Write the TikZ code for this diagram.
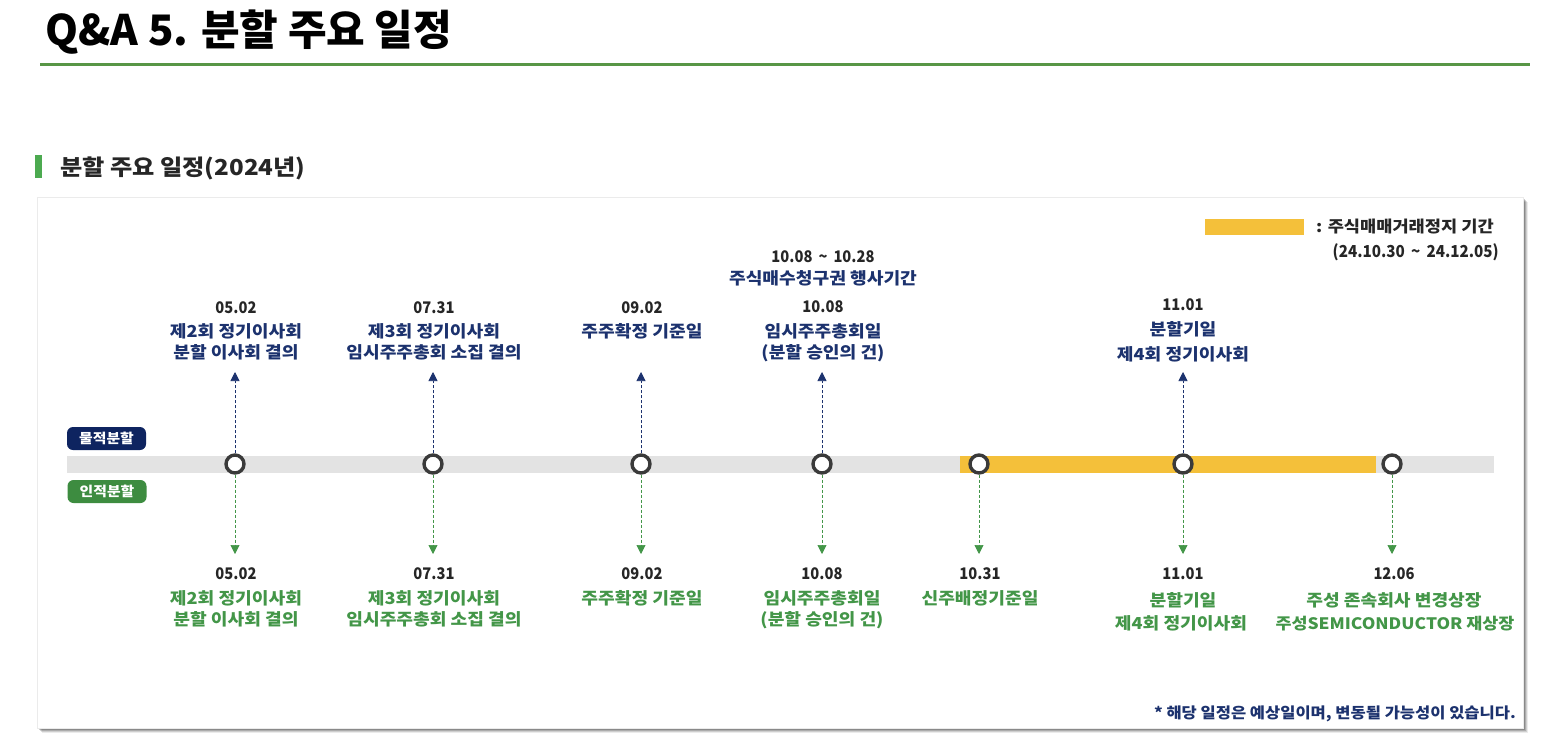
\documentclass[tikz,border=0pt]{standalone}
\usepackage{fontspec}
\setmainfont{Noto Sans CJK KR}
\newfontfamily\krw{Noto Sans CJK KR}[FakeStretch=1.1]
\newfontfamily\krn{Noto Sans CJK KR}[FakeStretch=0.92]
\usetikzlibrary{arrows.meta}
\definecolor{navyT}{RGB}{28,50,110}
\definecolor{navyP}{RGB}{14,36,96}
\definecolor{greenT}{RGB}{67,150,72}
\definecolor{greenP}{RGB}{61,140,64}
\definecolor{dateC}{RGB}{38,38,38}
\definecolor{yel}{RGB}{244,192,58}
\definecolor{barG}{RGB}{227,227,227}
\definecolor{lineG}{RGB}{88,150,70}
\definecolor{markG}{RGB}{76,170,80}
\definecolor{ringC}{RGB}{58,58,58}
\tikzset{
  txt/.style={anchor=base,inner sep=0pt,font=\krw\bfseries\fontsize{16.5}{19}\selectfont},
  dt/.style={anchor=base,inner sep=0pt,text=dateC,font=\krn\bfseries\fontsize{16}{18}\selectfont},
  up/.style={txt,text=navyT},
  dn/.style={txt,text=greenT},
  ring/.style={circle,draw=ringC,fill=white,line width=3.4pt,minimum size=18pt,inner sep=0pt},
  uparrow/.style={draw=navyT,densely dashed,line width=0.7pt,-{Triangle[width=9pt,length=9pt]}},
  dnarrow/.style={draw=greenT,densely dashed,line width=0.7pt,-{Triangle[width=9pt,length=9pt]}},
  pill/.style={rounded corners=6pt,minimum width=79pt,minimum height=23pt,inner sep=0pt,text=white,font=\krw\bfseries\fontsize{13.5}{15}\selectfont}
}
\begin{document}
\begin{tikzpicture}[x=1pt,y=-1pt]
\useasboundingbox (0,0) rectangle (1551,748);
\fill[white] (0,0) rectangle (1551,748);
% title
\node[anchor=base west,inner sep=0pt,font=\bfseries\fontsize{42}{46}\selectfont] (title) at (45,45) {Q\&A 5. 분할 주요 일정};
\draw[lineG,line width=3pt] (40,64) -- (1530,64);
% section
\fill[markG] (35,155) rectangle (42,178);
\node[anchor=base west,inner sep=0pt,text=dateC,font=\krw\bfseries\fontsize{22}{25}\selectfont] (sec) at (60,175) {분할 주요 일정(2024년)};
% panel with shadow
\foreach \o/\op in {5/0.08,4/0.12,3/0.16,2/0.2}{
  \fill[black,opacity=\op] (37+\o,197+\o) rectangle (1523+\o,728+\o);
}
\fill[white] (37,197) rectangle (1523,728);
\draw[black!8,line width=0.6pt] (37,197) rectangle (1523,728);
% legend
\fill[yel] (1205,219) rectangle (1304,235);
\node[anchor=base west,inner sep=0pt,text=dateC,font=\krw\bfseries\fontsize{16}{18}\selectfont] (leg1) at (1316,232.5) {: 주식매매거래정지 기간};
\node[anchor=base east,inner sep=0pt,text=dateC,font=\krn\bfseries\fontsize{16.5}{18}\selectfont] (leg2) at (1499,257) {(24.10.30 \,\textasciitilde\, 24.12.05)};
% bar
\fill[barG] (67,455.5) rectangle (1494,472.5);
\fill[yel] (960,455.5) rectangle (1376,472.5);
% pills
\node[pill,fill=navyP] (mul) at (106.5,438.5) {물적분할};
\node[pill,fill=greenP] (in) at (107,491.5) {인적분할};
% rings
\node[ring] (c1) at (235,464) {};
\node[ring] (c2) at (433,464) {};
\node[ring] (c3) at (641,464) {};
\node[ring] (c4) at (822,464) {};
\node[ring] (c5) at (979,464) {};
\node[ring] (c6) at (1183,464) {};
\node[ring] (c7) at (1392,464) {};
% arrow end coordinates
\coordinate (u1) at (235,372); \coordinate (u2) at (433,372); \coordinate (u3) at (641,372);
\coordinate (u4) at (822,372); \coordinate (u6) at (1183,372);
\coordinate (d1) at (235,554); \coordinate (d2) at (433,554); \coordinate (d3) at (641,554);
\coordinate (d4) at (822,554); \coordinate (d5) at (979,554); \coordinate (d6) at (1183,554);
\coordinate (d7) at (1392,554);
\foreach \i in {1,2,3,4,6}{\draw[uparrow] (c\i.north) -- (u\i);}
\foreach \i in {1,...,7}{\draw[dnarrow] (c\i.south) -- (d\i);}
% upper labels
\node[dt] (ud1) at (236,313) {05.02};
\node[up] (ua1) at (236,337) {제2회 정기이사회};
\node[up] (ub1) at (236,358) {분할 이사회 결의};
\node[dt] (ud2) at (434,313) {07.31};
\node[up] (ua2) at (434,337) {제3회 정기이사회};
\node[up] (ub2) at (434,358) {임시주주총회 소집 결의};
\node[dt] (ud3) at (642,313) {09.02};
\node[up] (ua3) at (642,337) {주주확정 기준일};
\node[dt] (ur4) at (823,262) {10.08 \,\textasciitilde\, 10.28};
\node[up] (us4) at (823,284) {주식매수청구권 행사기간};
\node[dt] (ud4) at (823,312) {10.08};
\node[up] (ua4) at (823,337) {임시주주총회일};
\node[up] (ub4) at (823,358) {(분할 승인의 건)};
\node[dt] (ud6) at (1183,310) {11.01};
\node[up] (ua6) at (1183,335) {분할기일};
\node[up] (ub6) at (1183,360) {제4회 정기이사회};
% lower labels
\node[dt] (ld1) at (236,579) {05.02};
\node[dn] (la1) at (236,604) {제2회 정기이사회};
\node[dn] (lb1) at (236,625) {분할 이사회 결의};
\node[dt] (ld2) at (434,579) {07.31};
\node[dn] (la2) at (434,604) {제3회 정기이사회};
\node[dn] (lb2) at (434,625) {임시주주총회 소집 결의};
\node[dt] (ld3) at (642,579) {09.02};
\node[dn] (la3) at (642,604) {주주확정 기준일};
\node[dt] (ld4) at (822,579) {10.08};
\node[dn] (la4) at (822,604) {임시주주총회일};
\node[dn] (lb4) at (822,625) {(분할 승인의 건)};
\node[dt] (ld5) at (980,579) {10.31};
\node[dn] (la5) at (980,604) {신주배정기준일};
\node[dt] (ld6) at (1183,579) {11.01};
\node[dn] (la6) at (1183,606) {분할기일};
\node[dn] (lb6) at (1181,629) {제4회 정기이사회};
\node[dt] (ld7) at (1394,579) {12.06};
\node[dn] (la7) at (1394,606) {주성 존속회사 변경상장};
\node[dn,font=\krw\bfseries\fontsize{15.8}{19}\selectfont] (lb7) at (1395,629) {주성SEMICONDUCTOR 재상장};
% footnote
\node[anchor=base east,inner sep=0pt,text=navyT,font=\krw\bfseries\fontsize{15}{17}\selectfont] (note) at (1516,718) {* 해당 일정은 예상일이며, 변동될 가능성이 있습니다.};
\end{tikzpicture}
\end{document}
